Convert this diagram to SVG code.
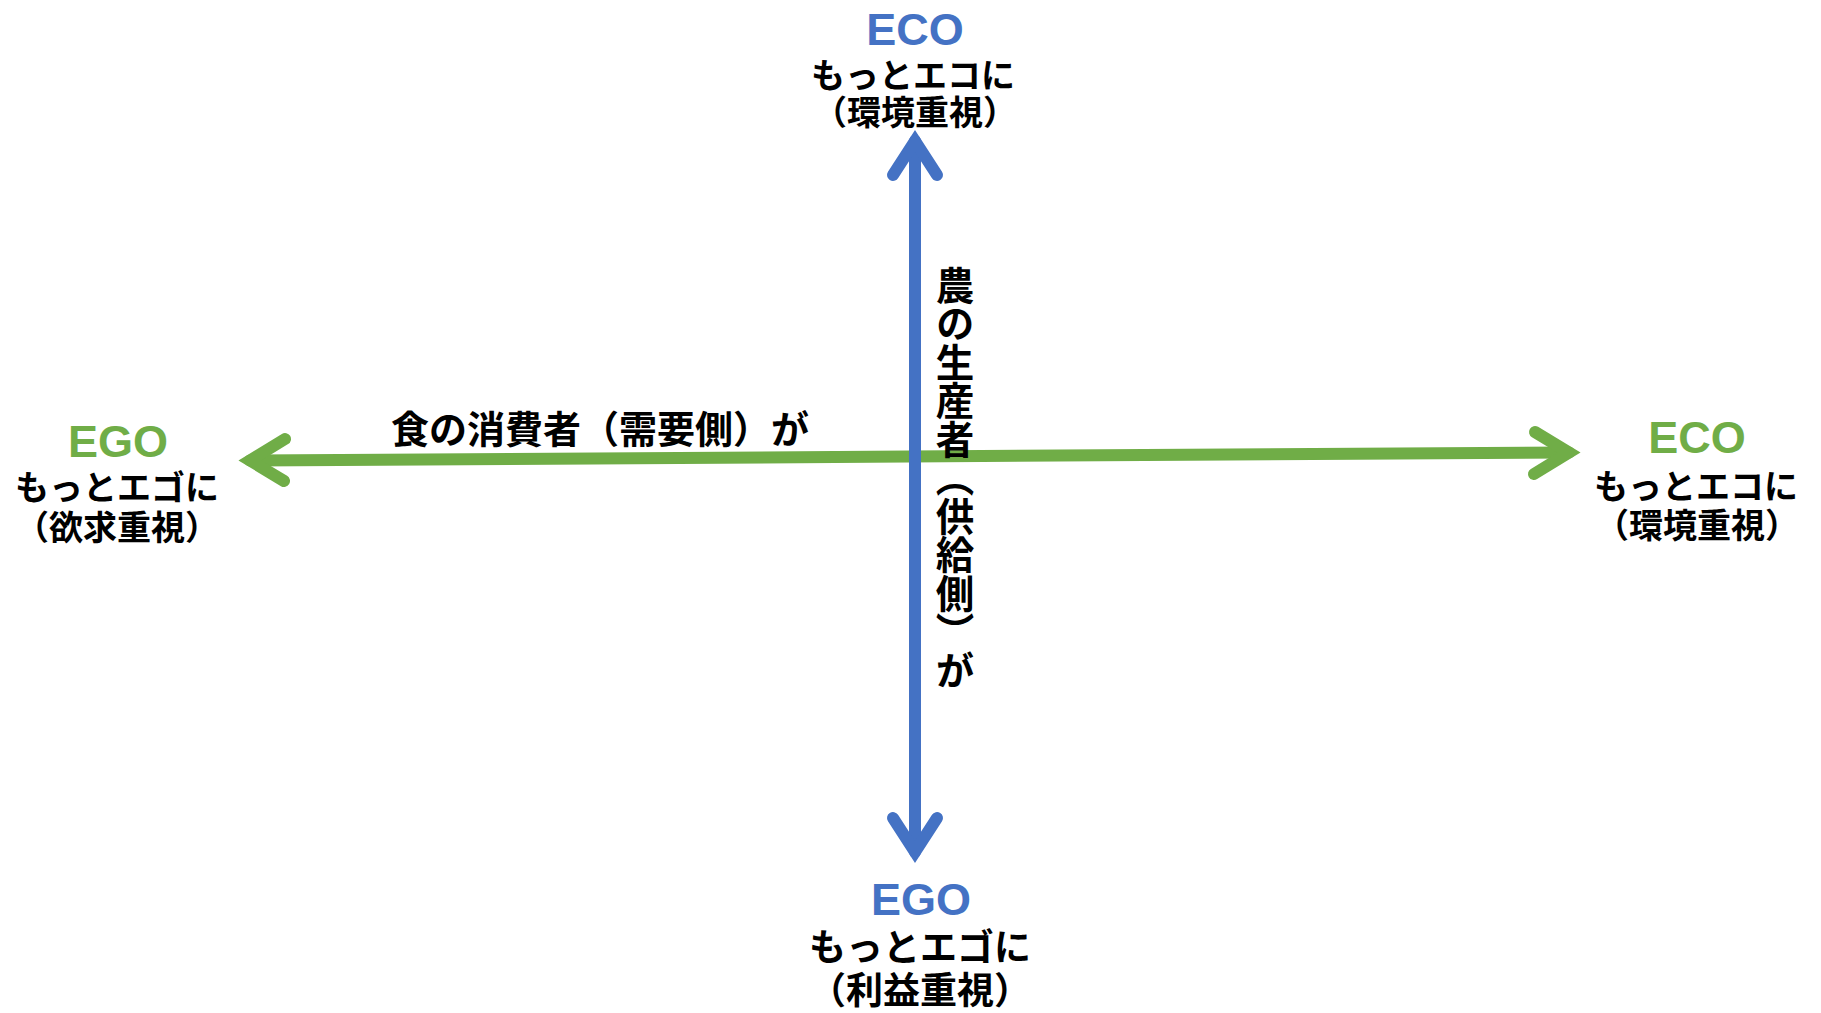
<svg xmlns="http://www.w3.org/2000/svg" width="1821" height="1013" viewBox="0 0 1821 1013">
  <style>
    .lat { font-family: "Liberation Sans", Arial, sans-serif; font-weight: 700; font-size: 45px; text-anchor: middle; }
    .jp { font-family: "Noto Sans CJK JP", sans-serif; font-weight: 700; font-size: 34px; text-anchor: middle; fill: #000; }
    .jpb { font-size: 37px; }
    .lab { font-family: "Noto Sans CJK JP", sans-serif; font-weight: 700; font-size: 38px; fill: #000; }
    .blue { fill: #4472C4; }
    .green { fill: #70AD47; }
    .axg { stroke: #70AD47; stroke-width: 12; fill: none; stroke-linecap: round; stroke-linejoin: miter; stroke-miterlimit: 10; }
    .axb { stroke: #4472C4; stroke-width: 12; fill: none; stroke-linecap: round; stroke-linejoin: miter; stroke-miterlimit: 10; }
  </style>
  <rect width="1821" height="1013" fill="#fff"/>

  <g id="connectors">
    <g id="consumer-axis">
      <line class="axg" x1="250" y1="460.5" x2="1569" y2="452.5"/>
      <polyline class="axg" points="285,439 250,460.5 284,481"/>
      <polyline class="axg" points="1535,432 1569,452.5 1534,474"/>
    </g>
    <g id="producer-axis">
      <line class="axb" x1="915" y1="141" x2="915" y2="852"/>
      <polyline class="axb" points="893,175 915,141 937,175"/>
      <polyline class="axb" points="893,818 915,852 937,818"/>
    </g>
    <text id="consumer-label" class="lab" x="600" y="443" text-anchor="middle">食の消費者（需要側）が</text>
    <text id="producer-label" class="lab" x="955" y="266" style="writing-mode: vertical-rl; font-size: 38.5px;">農の生産者（供給側）が</text>
  </g>

  <g id="node-top">
    <text class="lat blue" x="915" y="45">ECO</text>
    <text class="jp" x="913" y="88">もっとエコに</text>
    <text class="jp" x="915" y="125">（環境重視）</text>
  </g>

  <g id="node-left">
    <text class="lat green" x="118" y="457">EGO</text>
    <text class="jp" x="117" y="500">もっとエゴに</text>
    <text class="jp" x="117" y="540">（欲求重視）</text>
  </g>

  <g id="node-right">
    <text class="lat green" x="1697" y="453">ECO</text>
    <text class="jp" x="1696" y="499">もっとエコに</text>
    <text class="jp" x="1697" y="538">（環境重視）</text>
  </g>

  <g id="node-bottom">
    <text class="lat blue" x="921" y="915">EGO</text>
    <text class="jp jpb" x="920" y="961">もっとエゴに</text>
    <text class="jp jpb" x="920" y="1004">（利益重視）</text>
  </g>
</svg>
